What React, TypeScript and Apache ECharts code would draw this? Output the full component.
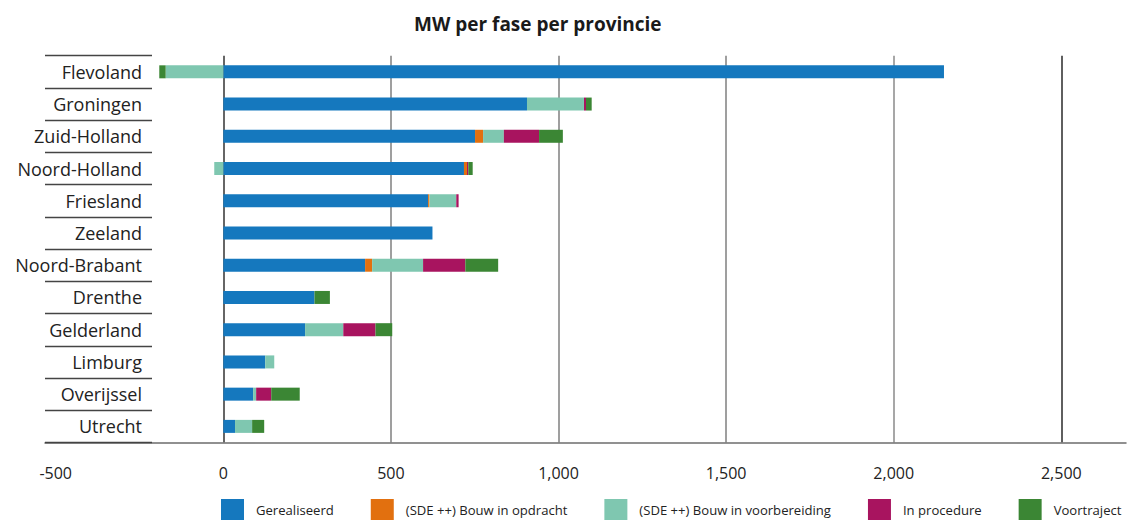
import React, { useEffect, useRef } from "react";
import * as echarts from "echarts";

const categories = [
  "Flevoland",
  "Groningen",
  "Zuid-Holland",
  "Noord-Holland",
  "Friesland",
  "Zeeland",
  "Noord-Brabant",
  "Drenthe",
  "Gelderland",
  "Limburg",
  "Overijssel",
  "Utrecht",
];

const seriesNames = [
  "Gerealiseerd",
  "(SDE ++) Bouw in opdracht",
  "(SDE ++) Bouw in voorbereiding",
  "In procedure",
  "Voortraject",
];

const gerealiseerd = [2150, 906, 751, 718, 611, 624, 423, 272, 244, 125, 89, 35];
const bouwInOpdracht = [0, 0, 24, 9, 4, 0, 21, 0, 0, 0, 0, 0];
const bouwInVoorbereiding = [-172, 170, 62, -27, 80, 0, 152, 0, 114, 27, 9, 51];
const inProcedure = [0, 6, 105, 4, 7, 0, 126, 0, 96, 0, 45, 0];
const voortraject = [-19, 17, 71, 13, 0, 0, 98, 46, 50, 0, 85, 36];

const xTickMin = -500;
const xTickMax = 2500;
const xTickStep = 500;

const colors = ["#1578be", "#e2700f", "#7fc7b0", "#a8145f", "#3b8634"];

const FONT = "'Open Sans', 'Noto Sans', sans-serif";

export default function App() {
  const ref = useRef<HTMLDivElement>(null);

  useEffect(() => {
    if (!ref.current) return;
    const chart = echarts.init(ref.current, null, { renderer: "svg" });
    const values = [gerealiseerd, bouwInOpdracht, bouwInVoorbereiding, inProcedure, voortraject];

    const option = {
      animation: false,
      textStyle: { fontFamily: FONT },
      title: {
        text: "MW per fase per provincie",
        left: 409,
        top: 9,
        textStyle: { fontFamily: FONT, fontSize: 19, fontWeight: "bold", color: "#1a1a1a" },
      },
      legend: {
        left: 221,
        top: 499,
        padding: 0,
        icon: "rect",
        itemWidth: 23,
        itemHeight: 21,
        itemGap: 37,
        selectedMode: false,
        data: seriesNames,
        formatter: (name: string) => "{t|" + name + "}",
        textStyle: {
          fontFamily: FONT,
          fontSize: 13.1,
          color: "#222",
          rich: { t: { fontFamily: FONT, fontSize: 13.1, color: "#222", padding: [0, 0, 0, 7] } },
        },
      },
      grid: [
        { left: 55.7, right: 73.7, top: 55.7, bottom: 77.5 },
        { left: 45, right: 9, top: 55.7, bottom: 77.5 },
      ],
      xAxis: [
        {
          type: "value",
          gridIndex: 0,
          min: xTickMin,
          max: xTickMax,
          interval: xTickStep,
          axisLine: { show: false },
          axisTick: { show: false },
          axisLabel: {
            margin: 22,
            fontSize: 16,
            color: "#222",
            fontFamily: FONT,
            formatter: (v: number) => v.toLocaleString("en-US"),
          },
          splitLine: {
            show: true,
            lineStyle: {
              width: 1.5,
              color: ["rgba(0,0,0,0)", "#333333", "#7f7f7f", "#7f7f7f", "#7f7f7f", "#8a8a8a", "#2a2a2a"],
            },
          },
        },
        {
          type: "value",
          gridIndex: 1,
          min: 0,
          max: 1,
          axisLine: { show: true, lineStyle: { color: "#6c6c6c", width: 1.5 } },
          axisTick: { show: false },
          axisLabel: { show: false },
          splitLine: { show: false },
        },
      ],
      yAxis: [
        {
          type: "category",
          gridIndex: 0,
          data: categories,
          inverse: true,
          offset: -96.3,
          axisLine: { show: false, onZero: false },
          axisTick: { show: true, length: 107, lineStyle: { color: "#444", width: 1.3 } },
          axisLabel: { margin: 10, fontSize: 18, color: "#222", fontFamily: FONT },
          splitLine: { show: false },
        },
        { type: "value", gridIndex: 1, show: false },
      ],
      series: seriesNames.map((name, i) => ({
        name,
        type: "bar",
        stack: "total",
        xAxisIndex: 0,
        yAxisIndex: 0,
        barWidth: 13,
        itemStyle: { color: colors[i] },
        data: values[i],
      })),
    };

    chart.setOption(option as any);
    return () => chart.dispose();
  }, []);

  return (
    <div
      ref={ref}
      style={{ position: "fixed", left: 0, top: 0, width: 1135, height: 520, background: "#fff" }}
    />
  );
}
